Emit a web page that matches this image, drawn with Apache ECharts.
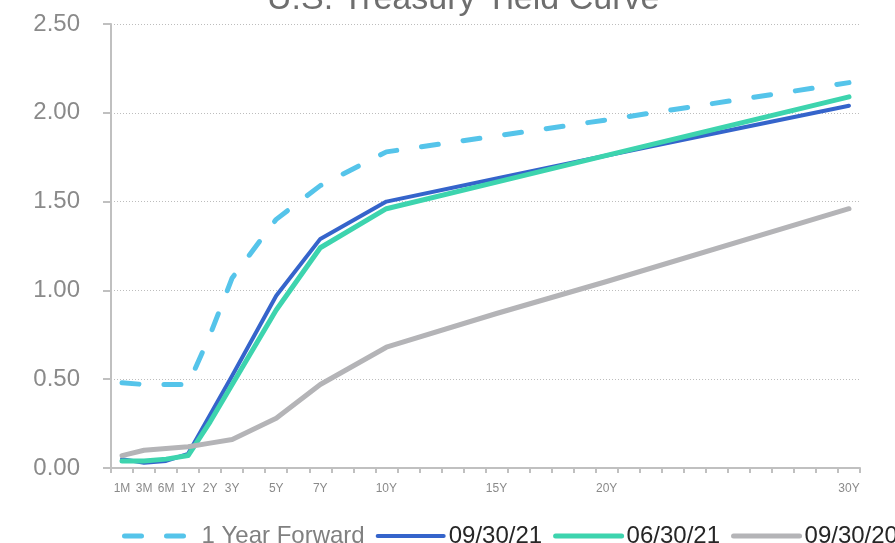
<!DOCTYPE html>
<html>
<head>
<meta charset="utf-8">
<script src="https://cdn.jsdelivr.net/npm/echarts@6/dist/echarts.min.js"></script>
<style>
html,body{margin:0;padding:0;background:#fff;}
#c{width:895px;height:543px;}
</style>
</head>
<body>
<div id="c"></div>
<script>
// Axis slots (tick labels), one per category position
var axisSlots = ['1M','3M','6M','1Y','2Y','3Y','','5Y','','7Y','','','10Y','','','','','15Y','','','','','20Y','','','','','','','','','','','30Y'];
var tenors = ['1M','3M','6M','1Y','2Y','3Y','5Y','7Y','10Y','15Y','20Y','30Y'];
var yTicks = [0, 0.5, 1, 1.5, 2, 2.5];

var seriesNames = ['1 Year Forward', '09/30/21', '06/30/21', '09/30/20'];
var forward1Y = [0.48, 0.47, 0.47, 0.47, 0.75, 1.07, 1.40, 1.59, 1.78, 1.87, 1.96, 2.17];
var curve093021 = [0.05, 0.03, 0.04, 0.08, 0.30, 0.52, 0.97, 1.29, 1.50, 1.63, 1.76, 2.04];
var curve063021 = [0.04, 0.04, 0.05, 0.07, 0.26, 0.47, 0.89, 1.24, 1.46, 1.61, 1.76, 2.09];
var curve093020 = [0.07, 0.10, 0.11, 0.12, 0.14, 0.16, 0.28, 0.47, 0.68, 0.87, 1.05, 1.46];

function toSlots(vals) {
  var out = axisSlots.map(function(){ return null; });
  tenors.forEach(function(t, i){ out[axisSlots.indexOf(t)] = vals[i]; });
  return out;
}

var FONT = 'Liberation Sans';
var chart = echarts.init(document.getElementById('c'), null, {renderer: 'canvas'});

function lineSeries(name, vals, color, width, dashed) {
  return {
    name: name,
    type: 'line',
    data: toSlots(vals),
    connectNulls: true,
    symbol: 'none',
    showSymbol: false,
    animation: false,
    lineStyle: {
      color: color, width: width,
      type: dashed ? [17, 25] : 'solid',
      cap: 'round', join: 'round'
    },
    itemStyle: {color: color},
    emphasis: {disabled: true}
  };
}

chart.setOption({
  animation: false,
  backgroundColor: '#ffffff',
  title: {
    text: 'U.S. Treasury Yield Curve',
    left: 262,
    top: -22,
    textStyle: {fontFamily: FONT, fontSize: 34, fontWeight: 'normal', color: '#6e6e6e'}
  },
  legend: {
    left: 122,
    top: 524,
    width: 1400,
    itemWidth: 66,
    itemHeight: 14,
    itemGap: 11,
    padding: 0,
    itemStyle: {opacity: 0},
    lineStyle: {width: 'inherit', cap: 'round'},
    textStyle: {fontFamily: FONT, fontSize: 24, color: '#262626'},
    data: [
      {name: seriesNames[0], textStyle: {color: '#808080', padding: [0, 0, 0, 6]}},
      {name: seriesNames[1]},
      {name: seriesNames[2]},
      {name: seriesNames[3]}
    ]
  },
  grid: {left: 111, right: 35, top: 24, bottom: 75, containLabel: false},
  xAxis: {
    type: 'category',
    data: axisSlots,
    boundaryGap: true,
    axisLine: {lineStyle: {color: '#c0c0c0', width: 2}},
    axisTick: {show: true, interval: 0, length: 5, lineStyle: {color: '#c0c0c0', width: 2}},
    axisLabel: {interval: 0, fontFamily: FONT, fontSize: 12, color: '#8a8a8a', margin: 15},
    splitLine: {show: false}
  },
  yAxis: {
    type: 'value',
    min: yTicks[0],
    max: yTicks[yTicks.length - 1],
    interval: 0.5,
    axisLine: {show: true, lineStyle: {color: '#c0c0c0', width: 2}},
    axisTick: {show: true, length: 8, lineStyle: {color: '#c0c0c0', width: 2}},
    axisLabel: {fontFamily: FONT, fontSize: 24, color: '#8a8a8a', margin: 31,
      formatter: function(v){ return v.toFixed(2); }},
    splitLine: {show: true, lineStyle: {color: '#bdbdbd', width: 1, type: [1, 2]}}
  },
  series: [
    lineSeries(seriesNames[0], forward1Y, '#55C4EA', 5, true),
    lineSeries(seriesNames[1], curve093021, '#3564CB', 4, false),
    lineSeries(seriesNames[2], curve063021, '#3DD4AE', 5, false),
    lineSeries(seriesNames[3], curve093020, '#B4B4B7', 5, false)
  ]
});
</script>
</body>
</html>
